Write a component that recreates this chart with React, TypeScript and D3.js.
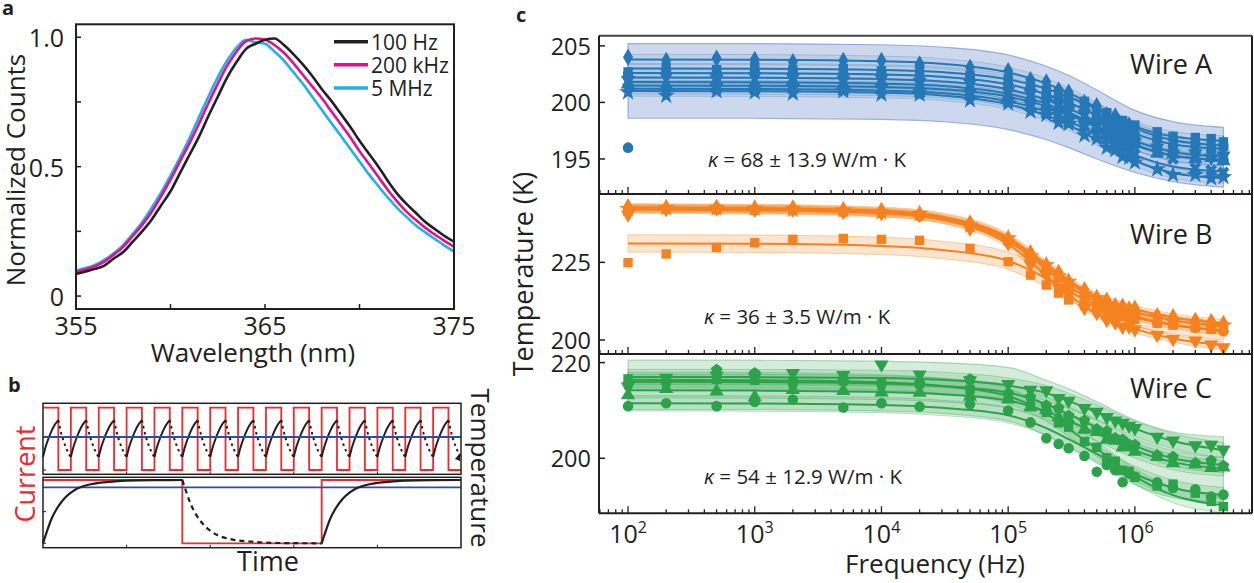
import React from 'react';
import * as d3 from 'd3';

// ================= Panel a data =================
const WAVELENGTH = [355, 355.5, 356, 356.5, 357, 357.5, 358, 358.5, 359, 359.5, 360, 360.5, 361, 361.5, 362, 362.5, 363, 363.5, 364, 364.5, 365, 365.5, 366, 366.5, 367, 367.5, 368, 368.5, 369, 369.5, 370, 370.5, 371, 371.5, 372, 372.5, 373, 373.5, 374, 374.5, 375];
const COUNTS_100HZ = [0.085, 0.095, 0.105, 0.118, 0.145, 0.17, 0.21, 0.25, 0.295, 0.35, 0.405, 0.475, 0.545, 0.615, 0.695, 0.77, 0.845, 0.905, 0.955, 0.975, 0.99, 0.995, 0.97, 0.935, 0.895, 0.85, 0.8, 0.755, 0.705, 0.655, 0.6, 0.55, 0.5, 0.445, 0.395, 0.355, 0.32, 0.285, 0.258, 0.232, 0.21];
const COUNTS_200KHZ = [0.093, 0.103, 0.115, 0.133, 0.16, 0.19, 0.232, 0.275, 0.325, 0.385, 0.45, 0.52, 0.59, 0.665, 0.745, 0.82, 0.89, 0.945, 0.985, 0.995, 0.99, 0.97, 0.94, 0.9, 0.855, 0.81, 0.765, 0.715, 0.665, 0.615, 0.56, 0.51, 0.46, 0.41, 0.365, 0.325, 0.293, 0.263, 0.237, 0.213, 0.19];
const COUNTS_5MHZ = [0.098, 0.108, 0.12, 0.14, 0.165, 0.198, 0.24, 0.285, 0.34, 0.4, 0.465, 0.535, 0.61, 0.69, 0.77, 0.845, 0.91, 0.96, 0.99, 0.98, 0.975, 0.945, 0.91, 0.865, 0.82, 0.77, 0.72, 0.67, 0.62, 0.57, 0.52, 0.47, 0.425, 0.38, 0.34, 0.305, 0.272, 0.245, 0.22, 0.195, 0.172];
const SPECTRUM_LABELS = ['100 Hz', '200 kHz', '5 MHz'];
const WL_TICKS = [355, 360, 365, 370, 375];
const WL_LABELS = [355, 365, 375];
const COUNT_TICKS = [0, 0.25, 0.5, 0.75, 1];
const COUNT_LABELS = [0, 0.5, 1];

// ================= Panel b data =================
const FAST_RISE_TIMES = [0, 1, 2, 3, 4, 5, 6, 7, 8, 9, 10, 11, 12, 13, 14];
const FAST_DUTY = 0.55;
const SAW_RISE_PHASE = [0, 0.1, 0.2, 0.3, 0.4, 0.55];
const SAW_RISE_TEMP = [0.21, 0.38, 0.51, 0.62, 0.71, 0.8];
const SAW_FALL_PHASE = [0.55, 0.65, 0.75, 0.85, 1.0];
const SAW_FALL_TEMP = [0.8, 0.6, 0.45, 0.33, 0.21];
const FAST_MEAN_TEMP = 0.53;
const SLOW_CURRENT_T = [0, 1, 1, 2, 2, 3];
const SLOW_CURRENT_V = [1, 1, 0, 0, 1, 1];
const SLOW_RISE_T = [0, 0.03, 0.06, 0.1, 0.15, 0.2, 0.25, 0.3, 0.4, 0.5, 0.6, 0.8, 1.0];
const SLOW_RISE_V = [0, 0.2, 0.38, 0.55, 0.7, 0.8, 0.87, 0.91, 0.955, 0.975, 0.99, 0.998, 1.0];
const SLOW_FALL_T = [1.0, 1.03, 1.06, 1.1, 1.15, 1.2, 1.25, 1.3, 1.4, 1.5, 1.6, 1.8, 2.0];
const SLOW_FALL_V = [1.0, 0.8, 0.62, 0.45, 0.3, 0.2, 0.13, 0.09, 0.045, 0.025, 0.01, 0.002, 0];
const SLOW_MEAN_TEMP = 0.885;

// ================= Panel c data =================
const FREQS = [1e2, 2e2, 5e2, 1e3, 2e3, 5e3, 1e4, 2e4, 5e4, 1e5, 1.5e5, 2e5, 2.5e5, 3e5, 4e5, 5e5, 6e5, 7e5, 8e5, 9e5, 1e6, 1.5e6, 2e6, 3e6, 4e6, 5e6];
const FIT_FREQS = [1e2, 1e3, 1e4, 3e4, 1e5, 2e5, 3e5, 5e5, 1e6, 2e6, 5e6];
const FREQ_LABEL_EXPONENTS = [2, 3, 4, 5, 6];

// Wire A
const A_DIAMOND = [204.0, 203.7, 203.9, 203.8, 203.6, 203.7, 203.7, 203.4, 203.1, 202.8, 202.0, 201.8, 201.1, 200.9, 200.0, 199.7, 198.9, 198.8, 198.1, 198.0, 197.6, 197.1, 196.7, 196.5, 196.2, 196.3];
const A_SQUARE = [202.7, 203.1, 202.9, 203.2, 202.9, 203.0, 202.8, 202.9, 202.4, 202.1, 201.7, 201.1, 200.9, 200.4, 200.1, 199.3, 199.1, 198.5, 198.4, 197.9, 198.0, 197.4, 197.0, 196.9, 196.8, 196.5];
const A_HEXAGON = [202.4, 202.7, 202.5, 202.8, 202.6, 202.4, 202.6, 202.2, 202.1, 201.5, 201.2, 200.6, 200.4, 199.8, 199.5, 198.7, 198.5, 197.9, 197.8, 197.3, 197.1, 196.7, 196.2, 196.2, 195.8, 196.0];
const A_TRI_DOWN = [202.0, 202.3, 202.1, 202.3, 202.2, 202.0, 202.1, 201.8, 201.7, 201.0, 200.8, 200.1, 199.9, 199.3, 199.0, 198.1, 197.9, 197.3, 197.2, 196.7, 196.5, 196.0, 195.5, 195.5, 195.1, 195.3];
const A_TRI_UP = [201.6, 201.5, 201.9, 201.7, 201.9, 201.6, 201.8, 201.4, 201.3, 200.6, 200.4, 199.7, 199.6, 198.9, 198.6, 197.8, 197.6, 197.0, 196.9, 196.3, 196.4, 195.5, 195.4, 195.0, 195.1, 194.8];
const A_CIRCLE = [196.0, 201.3, 201.6, 201.4, 201.5, 201.3, 201.5, 201.1, 201.0, 200.3, 200.0, 199.5, 199.2, 198.7, 198.2, 197.6, 197.2, 196.8, 196.5, 196.1, 196.2, 195.8, 195.6, 195.5, 195.2, 194.9];
const A_CROSS = [201.3, 201.0, 201.2, 201.1, 201.3, 201.0, 201.2, 200.8, 200.7, 200.0, 199.7, 199.0, 198.9, 198.2, 197.9, 197.0, 196.8, 196.1, 196.0, 195.4, 195.4, 195.6, 195.0, 194.2, 194.0, 193.8];
const A_STAR = [200.9, 200.6, 201.0, 200.9, 200.8, 201.0, 200.7, 200.7, 200.2, 199.9, 199.2, 198.9, 198.2, 198.1, 197.1, 196.8, 196.0, 195.8, 195.2, 195.1, 194.7, 194.1, 193.6, 193.6, 193.3, 193.4];
const A_FIT_DIAMOND = [203.8, 203.78, 203.65, 203.42, 202.66, 201.67, 200.84, 199.54, 197.72, 196.66, 196.2];
const A_FIT_SQUARE = [203.0, 202.98, 202.87, 202.68, 202.04, 201.21, 200.5, 199.42, 197.88, 196.98, 196.6];
const A_FIT_HEXAGON = [202.6, 202.58, 202.47, 202.27, 201.6, 200.72, 199.99, 198.85, 197.24, 196.3, 195.9];
const A_FIT_TRI_DOWN = [202.2, 202.18, 202.06, 201.85, 201.15, 200.24, 199.47, 198.28, 196.6, 195.62, 195.2];
const A_FIT_TRI_UP = [201.8, 201.78, 201.66, 201.46, 200.76, 199.87, 199.11, 197.94, 196.28, 195.31, 194.9];
const A_FIT_CIRCLE = [201.5, 201.48, 201.37, 201.17, 200.51, 199.65, 198.93, 197.8, 196.22, 195.3, 194.9];
const A_FIT_CROSS = [201.2, 201.18, 201.05, 200.84, 200.1, 199.16, 198.35, 197.11, 195.36, 194.34, 193.9];
const A_FIT_STAR = [201.0, 200.98, 200.85, 200.62, 199.84, 198.84, 198.0, 196.69, 194.84, 193.76, 193.3];
const A_ENV_HI = [205.2, 205.2, 205.1, 204.9, 204.2, 203.2, 202.4, 201.1, 199.3, 198.3, 197.8];
const A_ENV_LO = [198.6, 198.6, 198.5, 198.3, 197.6, 196.7, 196.0, 195.0, 193.8, 193.0, 192.5];
const A_BAND_HALF = [0.45, 0.45, 0.45, 0.45, 0.45, 0.45, 0.45, 0.45];
const A_TICKS = [195, 200, 205];

// Wire B
const B_DIAMOND = [242.9, 242.6, 242.7, 242.4, 242.5, 241.9, 241.7, 240.6, 237.7, 232.7, 228.1, 224.0, 221.7, 218.8, 216.2, 213.6, 212.8, 211.0, 210.9, 210.0, 210.2, 207.8, 207.5, 206.3, 206.0, 205.3];
const B_STAR = [242.2, 242.5, 242.3, 242.3, 241.9, 241.8, 241.1, 240.6, 236.9, 232.8, 226.9, 224.1, 220.5, 218.8, 214.8, 213.5, 211.4, 210.8, 209.5, 209.7, 208.8, 207.4, 206.1, 205.8, 204.6, 204.7];
const B_CIRCLE = [241.8, 242.1, 241.9, 241.7, 241.7, 241.1, 240.9, 239.8, 236.7, 231.6, 226.6, 222.6, 220.0, 217.1, 214.2, 211.6, 210.7, 208.9, 208.7, 207.8, 207.9, 205.5, 205.1, 203.9, 203.6, 202.8];
const B_TRI_DOWN = [240.4, 242.1, 242.3, 241.9, 242.0, 241.2, 240.8, 240.3, 235.8, 231.1, 224.4, 221.0, 216.9, 214.8, 210.3, 208.7, 206.4, 205.6, 204.2, 204.3, 203.4, 201.6, 200.3, 199.8, 198.5, 197.6];
const B_SQUARE = [224.9, 227.7, 229.8, 231.3, 232.4, 232.7, 232.4, 232.1, 229.5, 225.2, 220.9, 217.7, 215.1, 212.9, 211.2, 210.0, 209.0, 208.2, 207.6, 207.0, 206.7, 205.4, 204.8, 204.0, 203.5, 203.2];
const B_FIT_DIAMOND = [242.7, 242.51, 241.58, 239.72, 233.0, 224.42, 219.2, 213.98, 209.88, 207.26, 205.4];
const B_FIT_STAR = [242.4, 242.21, 241.26, 239.37, 232.55, 223.83, 218.52, 213.22, 209.05, 206.4, 204.5];
const B_FIT_CIRCLE = [242.0, 241.8, 240.83, 238.88, 231.86, 222.89, 217.43, 211.97, 207.68, 204.95, 203.0];
const B_FIT_TRI_DOWN = [242.3, 242.08, 240.98, 238.78, 230.86, 220.74, 214.58, 208.42, 203.58, 200.5, 198.3];
const B_FIT_SQUARE = [231.1, 231.0, 230.3, 229.0, 225.5, 219.8, 215.8, 211.0, 207.2, 204.8, 202.8];
const B_BAND_HALF = [1.2, 1.2, 1.2, 1.2, 2.8];
const B_TICKS = [200, 225];

// Wire C
const C_CIRCLE = [210.9, 211.5, 210.9, 211.8, 212.3, 210.6, 211.5, 210.8, 211.3, 210.0, 207.5, 204.2, 203.0, 202.1, 200.5, 197.2, 198.6, 197.5, 195.0, 196.8, 196.2, 195.0, 193.8, 193.5, 192.0, 192.4];
const C_SQUARE = [216.6, 216.2, 216.5, 216.3, 216.0, 216.2, 215.8, 215.6, 214.4, 213.2, 210.8, 209.6, 207.4, 206.5, 203.5, 202.3, 200.1, 199.4, 197.5, 197.3, 196.0, 194.2, 194.6, 192.7, 191.0, 189.9];
const C_TRI_UP = [213.2, 214.5, 214.0, 212.8, 214.3, 214.1, 213.8, 213.7, 212.9, 212.3, 210.7, 210.1, 208.6, 208.1, 206.0, 205.5, 203.9, 203.7, 202.3, 202.4, 201.4, 200.3, 199.0, 198.7, 198.0, 198.1];
const C_PENTAGON = [215.4, 215.8, 218.5, 217.8, 215.6, 216.2, 215.4, 215.6, 216.5, 213.5, 212.8, 211.0, 210.5, 208.9, 207.9, 206.1, 205.7, 204.2, 203.9, 202.9, 202.8, 200.6, 200.3, 199.0, 199.5, 198.4];
const C_TRI_DOWN = [215.0, 216.8, 217.3, 217.0, 217.8, 217.4, 219.6, 217.5, 216.3, 215.5, 214.3, 214.2, 212.6, 212.0, 210.5, 209.7, 208.6, 207.9, 207.4, 206.8, 206.3, 204.5, 203.7, 202.7, 202.8, 201.8];
const C_FIT_CIRCLE = [211.5, 211.44, 211.12, 210.54, 209.0, 206.32, 204.01, 200.94, 196.72, 193.84, 192.3];
const C_FIT_SQUARE = [216.4, 216.32, 215.88, 215.09, 212.99, 209.33, 206.18, 201.99, 196.23, 192.3, 190.2];
const C_FIT_TRI_UP = [214.2, 214.15, 213.87, 213.39, 212.08, 209.8, 207.84, 205.23, 201.65, 199.2, 197.9];
const C_FIT_PENTAGON = [216.0, 215.95, 215.65, 215.13, 213.74, 211.3, 209.21, 206.43, 202.6, 199.99, 198.6];
const C_FIT_TRI_DOWN = [217.0, 216.97, 216.8, 216.4, 215.2, 213.6, 212.0, 209.6, 206.2, 203.6, 201.7];
const C_ENV_HI = [220.5, 220.5, 220.3, 220.0, 219.0, 216.3, 214.5, 211.8, 208.0, 205.5, 204.5];
const C_ENV_LO = [210.2, 210.2, 209.9, 209.4, 207.8, 204.8, 202.3, 199.0, 194.5, 191.8, 190.6];
const C_BAND_HALF = [1.6, 1.6, 1.6, 1.6, 1.6];
const C_TICKS = [200, 220];

const WIRES = [
  {
    label: 'Wire A', kappa: '68 ± 13.9', domain: [191.9, 205.9], ticks: A_TICKS,
    envelope: { lo: A_ENV_LO, hi: A_ENV_HI }, bandHalf: A_BAND_HALF,
    series: [
      { shape: 'diamond', values: A_DIAMOND, fit: A_FIT_DIAMOND },
      { shape: 'square', values: A_SQUARE, fit: A_FIT_SQUARE },
      { shape: 'hexagon', values: A_HEXAGON, fit: A_FIT_HEXAGON },
      { shape: 'triDown', values: A_TRI_DOWN, fit: A_FIT_TRI_DOWN },
      { shape: 'triUp', values: A_TRI_UP, fit: A_FIT_TRI_UP },
      { shape: 'circle', values: A_CIRCLE, fit: A_FIT_CIRCLE },
      { shape: 'cross', values: A_CROSS, fit: A_FIT_CROSS },
      { shape: 'star', values: A_STAR, fit: A_FIT_STAR },
    ],
  },
  {
    label: 'Wire B', kappa: '36 ± 3.5', domain: [195.5, 247.0], ticks: B_TICKS,
    envelope: null, bandHalf: B_BAND_HALF,
    series: [
      { shape: 'diamond', values: B_DIAMOND, fit: B_FIT_DIAMOND },
      { shape: 'star', values: B_STAR, fit: B_FIT_STAR },
      { shape: 'circle', values: B_CIRCLE, fit: B_FIT_CIRCLE },
      { shape: 'triDown', values: B_TRI_DOWN, fit: B_FIT_TRI_DOWN },
      { shape: 'square', values: B_SQUARE, fit: B_FIT_SQUARE },
    ],
  },
  {
    label: 'Wire C', kappa: '54 ± 12.9', domain: [188.5, 221.8], ticks: C_TICKS,
    envelope: { lo: C_ENV_LO, hi: C_ENV_HI }, bandHalf: C_BAND_HALF,
    series: [
      { shape: 'circle', values: C_CIRCLE, fit: C_FIT_CIRCLE },
      { shape: 'square', values: C_SQUARE, fit: C_FIT_SQUARE },
      { shape: 'triUp', values: C_TRI_UP, fit: C_FIT_TRI_UP },
      { shape: 'pentagon', values: C_PENTAGON, fit: C_FIT_PENTAGON },
      { shape: 'triDown', values: C_TRI_DOWN, fit: C_FIT_TRI_DOWN },
    ],
  },
];

// ================= styles =================
const FONT = "'Open Sans', 'DejaVu Sans', sans-serif";
const INK = '#231f20';
const SPECTRUM_COLORS = [INK, '#ec0b8d', '#1fb1ea'];
const WIRE_STYLE = [
  { color: '#2577b6', band: 'rgba(37,119,182,0.09)', bandEdge: 'rgba(37,119,182,0.25)', env: 'rgba(90,125,200,0.30)', envEdge: 'rgba(90,125,200,0.55)' },
  { color: '#f5821f', band: 'rgba(245,130,31,0.22)', bandEdge: 'rgba(245,130,31,0.35)', env: '', envEdge: '' },
  { color: '#2ca24a', band: 'rgba(44,162,74,0.16)', bandEdge: 'rgba(44,162,74,0.3)', env: 'rgba(44,162,74,0.2)', envEdge: 'rgba(44,162,74,0.35)' },
];

const polygonType = (n: number) => ({
  draw(ctx: any, size: number) {
    const r = Math.sqrt(size / (0.5 * n * Math.sin((2 * Math.PI) / n)));
    for (let i = 0; i < n; i++) {
      const a = (i * 2 * Math.PI) / n;
      const px = r * Math.sin(a);
      const py = -r * Math.cos(a);
      if (i === 0) ctx.moveTo(px, py); else ctx.lineTo(px, py);
    }
    ctx.closePath();
  },
});

function symbolFor(shape: string): { d: string; rot: number } {
  const S = 88;
  switch (shape) {
    case 'circle': return { d: d3.symbol(d3.symbolCircle, S)() as string, rot: 0 };
    case 'square': return { d: d3.symbol(d3.symbolSquare, S)() as string, rot: 0 };
    case 'diamond': return { d: d3.symbol(d3.symbolDiamond, S)() as string, rot: 0 };
    case 'triUp': return { d: d3.symbol(d3.symbolTriangle, S)() as string, rot: 0 };
    case 'triDown': return { d: d3.symbol(d3.symbolTriangle, S)() as string, rot: 180 };
    case 'star': return { d: d3.symbol(d3.symbolStar, S * 1.1)() as string, rot: 0 };
    case 'cross': return { d: d3.symbol(d3.symbolCross, S)() as string, rot: 45 };
    case 'hexagon': return { d: d3.symbol(polygonType(6) as any, S)() as string, rot: 0 };
    case 'pentagon': return { d: d3.symbol(polygonType(5) as any, S)() as string, rot: 0 };
    default: return { d: d3.symbol(d3.symbolCircle, S)() as string, rot: 0 };
  }
}

function PanelA() {
  const x = d3.scaleLinear().domain([355, 375]).range([76, 454]);
  const y = d3.scaleLinear().domain([-0.05, 1.05]).range([309, 24.3]);
  const series = [COUNTS_100HZ, COUNTS_200KHZ, COUNTS_5MHZ];
  const line = d3.line<number>().x((_, i) => x(WAVELENGTH[i])).y((d) => y(d)).curve(d3.curveMonotoneX);
  const legendY = [41.7, 64.7, 88];
  return (
    <g>
      <text x={2} y={15} fontSize={20} fontWeight="bold" fontFamily={FONT} fill={INK}>a</text>
      {[2, 1, 0].map((k) => (
        <path key={k} d={line(series[k]) as string} fill="none" stroke={SPECTRUM_COLORS[k]} strokeWidth={2.6} />
      ))}
      <rect x={76} y={24.3} width={378} height={284.7} fill="none" stroke={INK} strokeWidth={2} />
      {WL_TICKS.map((t) => (
        <line key={t} x1={x(t)} x2={x(t)} y1={309} y2={304} stroke={INK} strokeWidth={1.5} />
      ))}
      {COUNT_TICKS.map((t) => (
        <line key={t} x1={76} x2={81} y1={y(t)} y2={y(t)} stroke={INK} strokeWidth={1.5} />
      ))}
      {WL_LABELS.map((t) => (
        <text key={t} x={x(t)} y={335} textAnchor="middle" fontSize={25} fontFamily={FONT} fill={INK}>{t}</text>
      ))}
      {COUNT_LABELS.map((t) => (
        <text key={t} x={64} y={y(t)} textAnchor="end" dominantBaseline="central" fontSize={25} fontFamily={FONT} fill={INK}>
          {t === 0 ? '0' : t.toFixed(1)}
        </text>
      ))}
      <text x={253} y={362} textAnchor="middle" fontSize={26} fontFamily={FONT} fill={INK}>Wavelength (nm)</text>
      <text transform="translate(25,170) rotate(-90)" textAnchor="middle" fontSize={26} fontFamily={FONT} fill={INK}>Normalized Counts</text>
      {SPECTRUM_LABELS.map((lab, k) => (
        <g key={lab}>
          <line x1={334} x2={368} y1={legendY[k]} y2={legendY[k]} stroke={SPECTRUM_COLORS[k]} strokeWidth={3.5} />
          <text x={371} y={legendY[k]} dominantBaseline="central" fontSize={21} fontFamily={FONT} fill={INK}>{lab}</text>
        </g>
      ))}
    </g>
  );
}

function PanelB() {
  const L = 43, R = 461;
  const xu = d3.scaleLinear().domain([0, 15]).range([L, R]);
  const yu = d3.scaleLinear().domain([0, 1]).range([470, 407.7]);
  const xl = d3.scaleLinear().domain([0, 3]).range([L, R]);
  const yl = d3.scaleLinear().domain([0, 1]).range([543.3, 480]);
  const fastPts: [number, number][] = [];
  FAST_RISE_TIMES.forEach((t) => {
    fastPts.push([t, 1]);
    fastPts.push([t + FAST_DUTY, 0]);
  });
  fastPts.push([15, 0]);
  const step = d3.line<[number, number]>().x((d) => xu(d[0])).y((d) => yu(d[1])).curve(d3.curveStepAfter);
  const slowPts: [number, number][] = SLOW_CURRENT_T.map((t, i) => [t, SLOW_CURRENT_V[i]]);
  const slowLine = d3.line<[number, number]>().x((d) => xl(d[0])).y((d) => yl(d[1]));
  const riseLine = (offset: number, T: number[], V: number[]) =>
    d3.line<number>().x((_, i) => xl(T[i] + offset)).y((d) => yl(d)).curve(d3.curveMonotoneX)(V) as string;
  const tickXs = [0.2, 0.4, 0.6, 0.8].map((f) => L + f * (R - L));
  return (
    <g>
      <text x={8} y={392} fontSize={20} fontWeight="bold" fontFamily={FONT} fill={INK}>b</text>
      <path d={step(fastPts) as string} fill="none" stroke="#ee2a2e" strokeWidth={1.8} />
      {FAST_RISE_TIMES.map((t) => (
        <g key={t}>
          <path
            d={d3.line<number>().x((_, i) => xu(t + SAW_RISE_PHASE[i])).y((d) => yu(d)).curve(d3.curveMonotoneX)(SAW_RISE_TEMP) as string}
            fill="none" stroke={INK} strokeWidth={2} />
          <path
            d={d3.line<number>().x((_, i) => xu(t + SAW_FALL_PHASE[i])).y((d) => yu(d)).curve(d3.curveMonotoneX)(SAW_FALL_TEMP) as string}
            fill="none" stroke={INK} strokeWidth={2} strokeDasharray="2.5,3.5" />
        </g>
      ))}
      <line x1={L} x2={R} y1={yu(FAST_MEAN_TEMP)} y2={yu(FAST_MEAN_TEMP)} stroke="#2b4fa8" strokeWidth={1.8} />
      <path d={`M${R - 1},${yu(0.21) - 4}L${R - 6},${yu(0.21) + 2}L${R - 1},${yu(0.21) + 4}Z`} fill={INK} />
      <rect x={L} y={403.3} width={R - L} height={71} fill="none" stroke={INK} strokeWidth={1.5} />
      {tickXs.map((tx) => (
        <line key={'u' + tx} x1={tx} x2={tx} y1={474.3} y2={471.5} stroke={INK} strokeWidth={1} />
      ))}
      <line x1={L} x2={L + 3} y1={470} y2={470} stroke={INK} strokeWidth={1} />
      <path d={slowLine(slowPts) as string} fill="none" stroke="#ee2a2e" strokeWidth={1.8} />
      <line x1={L} x2={R} y1={yl(SLOW_MEAN_TEMP)} y2={yl(SLOW_MEAN_TEMP)} stroke="#2b4fa8" strokeWidth={1.8} />
      <path d={riseLine(0, SLOW_RISE_T, SLOW_RISE_V)} fill="none" stroke={INK} strokeWidth={2.2} />
      <path d={riseLine(0, SLOW_FALL_T, SLOW_FALL_V)} fill="none" stroke={INK} strokeWidth={2.2} strokeDasharray="5,4" />
      <path d={riseLine(2, SLOW_RISE_T, SLOW_RISE_V)} fill="none" stroke={INK} strokeWidth={2.2} />
      <rect x={L} y={477.3} width={R - L} height={70.4} fill="none" stroke={INK} strokeWidth={1.5} />
      {tickXs.map((tx) => (
        <line key={'l' + tx} x1={tx} x2={tx} y1={547.7} y2={544.7} stroke={INK} strokeWidth={1} />
      ))}
      <line x1={L} x2={L + 3} y1={yl(0.5)} y2={yl(0.5)} stroke={INK} strokeWidth={1} />
      <line x1={L} x2={L + 3} y1={yl(0)} y2={yl(0)} stroke={INK} strokeWidth={1} />
      <text transform="translate(35,474) rotate(-90)" textAnchor="middle" fontSize={27} fontFamily={FONT} fill="#ee2a2e">Current</text>
      <text transform="translate(471,468) rotate(90)" textAnchor="middle" fontSize={26} fontFamily={FONT} fill={INK}>Temperature</text>
      <text x={268} y={571} textAnchor="middle" fontSize={27} fontFamily={FONT} fill={INK}>Time</text>
    </g>
  );
}

function PanelC() {
  const L = 599, R = 1252;
  const x = d3.scaleLog().domain([59, 8.4e6]).range([L, R]);
  const rows = [
    { top: 35.7, bottom: 194 },
    { top: 194, bottom: 354 },
    { top: 354, bottom: 513.3 },
  ];
  const kappaY = [167, 324, 484];
  const wireLabelY = [74, 244, 398];
  const allTicks = x.ticks().filter((t) => t >= 59 && t <= 8.4e6);
  const isMajor = (t: number) => Math.abs(Math.log10(t) - Math.round(Math.log10(t))) < 1e-9;
  return (
    <g>
      <text x={516} y={22} fontSize={20} fontWeight="bold" fontFamily={FONT} fill={INK}>c</text>
      {WIRES.map((w, wi) => {
        const st = WIRE_STYLE[wi];
        const row = rows[wi];
        const y = d3.scaleLinear().domain(w.domain).range([row.bottom, row.top]);
        const fitLine = d3.line<number>().x((_, i) => x(FIT_FREQS[i])).y((d) => y(d)).curve(d3.curveMonotoneX);
        const env = w.envelope;
        return (
          <g key={w.label}>
            {env && (
              <path
                d={d3.area<number>().x((_, i) => x(FIT_FREQS[i])).curve(d3.curveMonotoneX)
                  .y0((_, i) => y(env.lo[i])).y1((_, i) => y(env.hi[i]))(env.lo) as string}
                fill={st.env} stroke={st.envEdge} strokeWidth={1.2} />
            )}
            {w.series.map((s, si) => (
              <path key={'b' + si}
                d={d3.area<number>().x((_, i) => x(FIT_FREQS[i])).curve(d3.curveMonotoneX)
                  .y0((d) => y(d - w.bandHalf[si])).y1((d) => y(d + w.bandHalf[si]))(s.fit) as string}
                fill={st.band} stroke={st.bandEdge} strokeWidth={1} />
            ))}
            {w.series.map((s, si) => (
              <path key={'f' + si} d={fitLine(s.fit) as string} fill="none" stroke={st.color} strokeWidth={2} />
            ))}
            {w.series.map((s, si) => {
              const sym = symbolFor(s.shape);
              return (
                <g key={'m' + si}>
                  {s.values.map((v, i) => (
                    <path key={i} d={sym.d} fill={st.color}
                      transform={`translate(${x(FREQS[i])},${y(v)}) rotate(${sym.rot})`} />
                  ))}
                </g>
              );
            })}
            <line x1={L} x2={R} y1={row.bottom} y2={row.bottom} stroke={INK} strokeWidth={2} />
            {allTicks.map((t, i) => (
              <line key={'t' + i} x1={x(t)} x2={x(t)} y1={row.bottom} y2={row.bottom - (isMajor(t) ? 7 : 4)} stroke={INK} strokeWidth={1.3} />
            ))}
            {w.ticks.map((t) => (
              <g key={'y' + t}>
                <line x1={L} x2={L + 6} y1={y(t)} y2={y(t)} stroke={INK} strokeWidth={1.5} />
                <text x={591} y={y(t)} textAnchor="end" dominantBaseline="central" fontSize={23.5} fontFamily={FONT} fill={INK}>{t}</text>
              </g>
            ))}
            <text x={1130} y={wireLabelY[wi]} fontSize={27} fontFamily={FONT} fill={INK}>{w.label}</text>
            <text x={wi === 0 ? 708 : 704} y={kappaY[wi]} fontSize={20.5} fontFamily={FONT} fill={INK}>
              <tspan fontStyle="italic">κ</tspan>
              {` = ${w.kappa} W/m · K`}
            </text>
          </g>
        );
      })}
      <line x1={L} x2={R} y1={35.7} y2={35.7} stroke="#444" strokeWidth={2} />
      <line x1={L} x2={L} y1={35.7} y2={513.3} stroke={INK} strokeWidth={2} />
      <line x1={R} x2={R} y1={35.7} y2={513.3} stroke={INK} strokeWidth={2} />
      {FREQ_LABEL_EXPONENTS.map((e) => (
        <text key={e} x={x(Math.pow(10, e))} y={543} textAnchor="middle" fontSize={25} fontFamily={FONT} fill={INK}>
          <tspan>10</tspan>
          <tspan dy={-10} fontSize={16}>{e}</tspan>
        </text>
      ))}
      <text x={935} y={573} textAnchor="middle" fontSize={26} fontFamily={FONT} fill={INK}>Frequency (Hz)</text>
      <text transform="translate(533,274) rotate(-90)" textAnchor="middle" fontSize={27} fontFamily={FONT} fill={INK}>Temperature (K)</text>
    </g>
  );
}

export default function App() {
  return (
    <svg width={1254} height={583} viewBox="0 0 1254 583"
      style={{ position: 'absolute', left: 0, top: 0, background: '#fff' }}>
      <rect x={0} y={0} width={1254} height={583} fill="#fff" />
      <PanelA />
      <PanelB />
      <PanelC />
    </svg>
  );
}
